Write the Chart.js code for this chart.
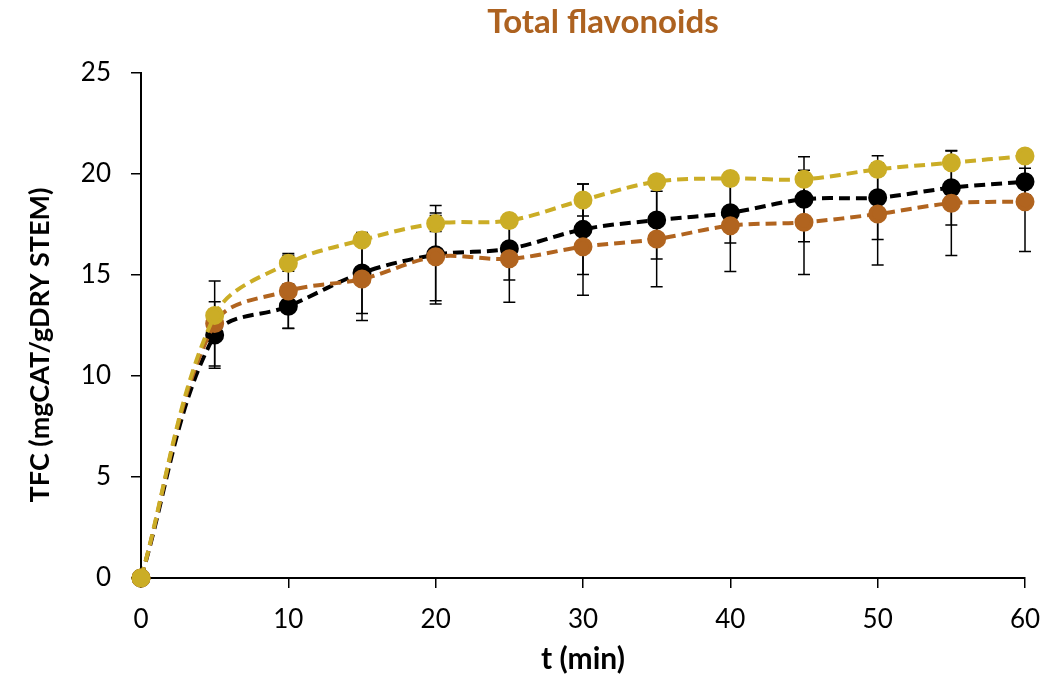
<!DOCTYPE html>
<html>
<head>
<meta charset="utf-8">
<script src="https://cdn.jsdelivr.net/npm/chart.js@4/dist/chart.umd.min.js"></script>
<style>
  html, body { margin: 0; padding: 0; background: #fff; }
  #wrap { width: 1058px; height: 678px; }
</style>
</head>
<body>
<div id="wrap"><canvas id="tfcChart" width="1058" height="678"></canvas></div>
<script>
/* ─── Total flavonoids vs time ─────────────────────────────── */

const TIMES = [0, 5, 10, 15, 20, 25, 30, 35, 40, 45, 50, 55, 60];

const BLACK_VALUES = [0, 12.03, 13.45, 15.1, 16.0, 16.3, 17.26, 17.72, 18.08, 18.75, 18.83, 19.32, 19.62];
const BLACK_ERRORS = [0, 1.65, 1.1, 2.0, 2.44, 1.55, 2.24, 1.93, 1.5, 2.1, 2.07, 1.84, 0.66];

const BROWN_VALUES = [0, 12.6, 14.21, 14.8, 15.9, 15.8, 16.4, 16.78, 17.44, 17.61, 18.02, 18.55, 18.63];
const BROWN_ERRORS = [0, 2.1, 1.85, 2.05, 2.17, 2.15, 2.4, 2.36, 2.27, 2.58, 2.52, 2.59, 2.47];

const GOLD_VALUES = [0, 13.0, 15.58, 16.73, 17.55, 17.7, 18.71, 19.62, 19.78, 19.74, 20.23, 20.56, 20.89];
const GOLD_ERRORS = [0, 0.3, 0.4, 0.3, 0.4, 0.3, 0.79, 0.3, 0.3, 0.3, 0.3, 0.3, 0.3];

const X_TICKS = [0, 10, 20, 30, 40, 50, 60];
const Y_TICKS = [0, 5, 10, 15, 20, 25];

const TITLE = 'Total flavonoids';
const X_TITLE = 't (min)';
const Y_TITLE = 'TFC (mgCAT/gDRY STEM)';

const FONT = 'Lato, Calibri, "Noto Sans", sans-serif';
const C_BLACK = '#000000';
const C_BROWN = '#B1641F';
const C_GOLD  = '#CBAD26';
const C_TITLE = '#AD6220';

function series(values, errors, color) {
  return {
    data: TIMES.map((t, i) => ({ x: t, y: values[i] })),
    errors,
    borderColor: color,
    backgroundColor: color,
    pointBackgroundColor: color,
    pointBorderColor: color,
    pointRadius: 7.5,
    pointHoverRadius: 7.5,
    borderWidth: 4,
    borderDash: [11, 6],
    tension: 0.35,
    fill: false,
    clip: false,
  };
}

// error bars go under lines and markers, so caps hide behind markers like the original
const errorBars = {
  id: 'errorBars',
  beforeDatasetsDraw(chart) {
    const { ctx, scales: { x, y } } = chart;
    ctx.save();
    ctx.strokeStyle = '#000';
    ctx.lineWidth = 1.5;
    chart.data.datasets.forEach(ds => {
      ds.data.forEach((p, i) => {
        const e = ds.errors[i];
        if (!e) return;
        const px = x.getPixelForValue(p.x);
        const top = y.getPixelForValue(p.y + e);
        const bot = y.getPixelForValue(p.y - e);
        ctx.beginPath();
        ctx.moveTo(px, top); ctx.lineTo(px, bot);
        ctx.moveTo(px - 6, top); ctx.lineTo(px + 6, top);
        ctx.moveTo(px - 6, bot); ctx.lineTo(px + 6, bot);
        ctx.stroke();
      });
    });
    ctx.restore();
  }
};

// chart title and y title placed where the original has them
const titles = {
  id: 'titles',
  afterDraw(chart) {
    const { ctx } = chart;
    ctx.save();
    ctx.textAlign = 'center';
    ctx.textBaseline = 'middle';
    ctx.fillStyle = C_TITLE;
    ctx.font = 'bold 33px ' + FONT;
    ctx.fillText(TITLE, 603, 22);
    ctx.fillStyle = '#000';
    ctx.font = 'bold 27px ' + FONT;
    ctx.translate(40, 345);
    ctx.rotate(-Math.PI / 2);
    ctx.fillText(Y_TITLE, 0, 0);
    ctx.restore();
  }
};

const ctx = document.getElementById('tfcChart').getContext('2d');
new Chart(ctx, {
  type: 'line',
  data: {
    datasets: [
      series(GOLD_VALUES, GOLD_ERRORS, C_GOLD),
      series(BROWN_VALUES, BROWN_ERRORS, C_BROWN),
      series(BLACK_VALUES, BLACK_ERRORS, C_BLACK),
    ]
  },
  options: {
    responsive: false,
    animation: false,
    layout: { padding: { left: 0, right: 33, top: 73, bottom: 0 } },
    plugins: {
      legend: { display: false },
      tooltip: { enabled: false },
    },
    scales: {
      x: {
        type: 'linear',
        min: 0,
        max: 60,
        afterFit: s => { s.height = 100; },
        afterBuildTicks: s => { s.ticks = X_TICKS.map(v => ({ value: v })); },
        grid: { display: true, drawOnChartArea: false, drawTicks: true, tickLength: 10, color: '#000', lineWidth: 1.5 },
        border: { display: true, color: '#000', width: 2 },
        ticks: { color: '#000', font: { family: FONT, size: 26 }, padding: 16, maxRotation: 0 },
        title: { display: true, text: X_TITLE, color: '#000', font: { family: FONT, size: 30, weight: 'bold' }, padding: { top: 0, bottom: 1 } },
      },
      y: {
        min: 0,
        max: 25,
        afterFit: s => { s.width = 141; },
        afterBuildTicks: s => { s.ticks = Y_TICKS.map(v => ({ value: v })); },
        grid: { display: true, drawOnChartArea: false, drawTicks: true, tickLength: 10, color: '#000', lineWidth: 1.5 },
        border: { display: true, color: '#000', width: 2 },
        ticks: { color: '#000', font: { family: FONT, size: 26 }, padding: 20 },
      }
    }
  },
  plugins: [errorBars, titles]
});
</script>
</body>
</html>
